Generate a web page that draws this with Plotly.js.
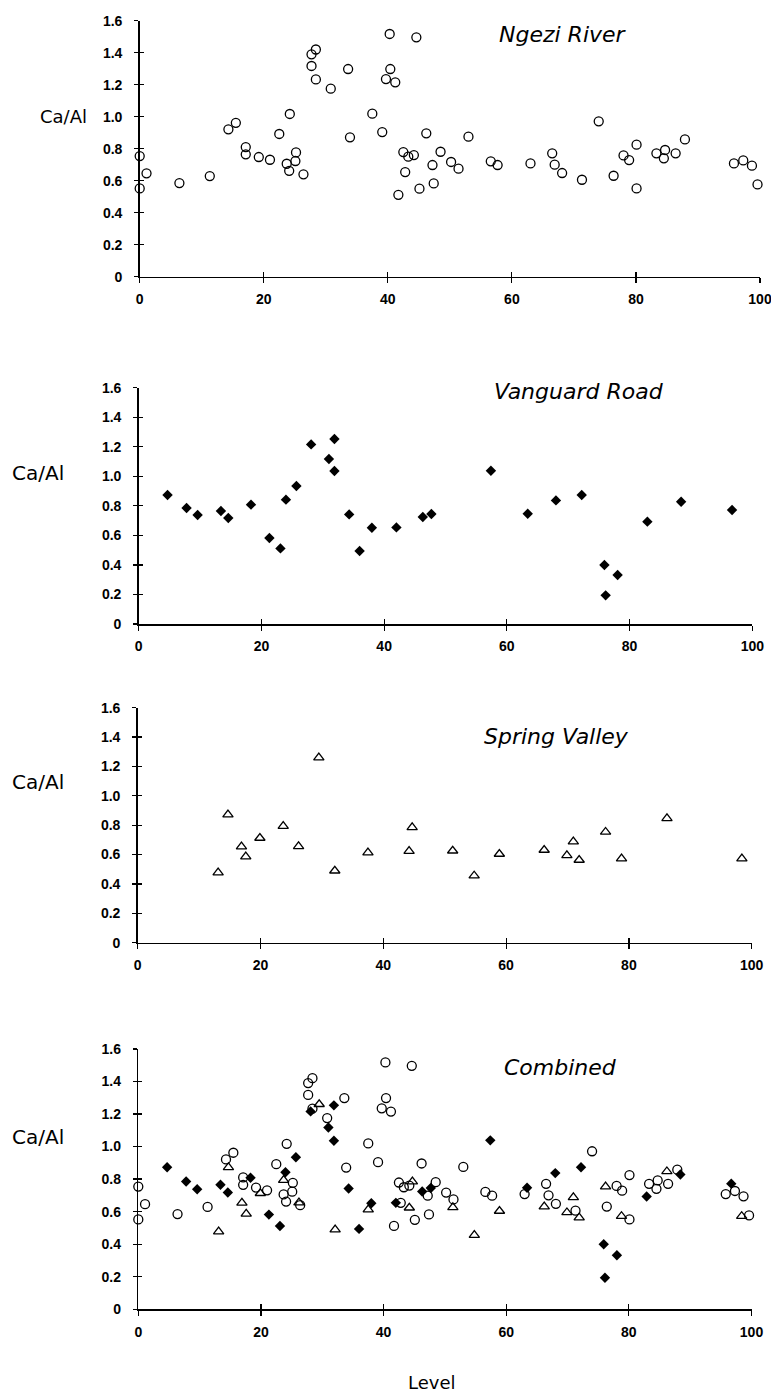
<!DOCTYPE html>
<html>
<head>
<meta charset="utf-8">
<script src="https://cdn.plot.ly/plotly-3.0.1.min.js"></script>
<style>html,body{margin:0;padding:0;background:#fff;}#chart{width:771px;height:1397px;}</style>
</head>
<body>
<div id="chart"></div>
<script>
// ---- data (Level vs Ca/Al) ----
const ngeziLevel = [0,0,1.1,6.4,11.3,14.3,15.5,17.1,17.1,19.2,21.0,22.5,24.2,23.7,24.1,25.2,25.1,26.4,27.7,28.4,27.7,28.4,30.8,33.6,33.9,37.5,39.1,40.3,39.7,40.4,41.2,41.7,44.6,42.5,42.8,43.3,44.2,45.1,46.2,47.2,47.4,48.5,50.2,51.4,53.0,56.6,57.7,63.0,66.5,66.9,68.1,71.3,74.0,76.4,78.0,78.9,80.1,80.1,83.3,84.5,84.7,86.4,87.9,95.8,97.3,98.7,99.6];
const ngeziCaAl  = [0.754,0.552,0.646,0.585,0.629,0.921,0.962,0.81,0.765,0.748,0.731,0.892,1.017,0.706,0.662,0.777,0.723,0.640,1.39,1.42,1.317,1.233,1.175,1.298,0.871,1.019,0.904,1.517,1.235,1.298,1.215,0.512,1.496,0.779,0.654,0.75,0.760,0.55,0.896,0.698,0.583,0.781,0.717,0.675,0.875,0.721,0.698,0.708,0.771,0.70,0.648,0.606,0.971,0.631,0.758,0.729,0.825,0.552,0.771,0.740,0.792,0.771,0.858,0.708,0.727,0.694,0.577];

const vanguardLevel = [4.7,7.8,9.6,13.4,14.6,18.3,21.3,23.1,24.0,25.7,28.1,31.0,31.9,31.9,34.3,36.0,38.0,42.0,46.3,47.7,57.4,63.4,68.0,72.2,75.9,78.05,76.1,82.9,88.4,96.7];
const vanguardCaAl  = [0.873,0.785,0.738,0.765,0.718,0.808,0.582,0.512,0.842,0.934,1.216,1.117,1.253,1.036,0.742,0.494,0.652,0.654,0.724,0.745,1.038,0.747,0.837,0.873,0.40,0.332,0.194,0.693,0.828,0.772];

const springLevel = [13.1,14.7,16.9,17.6,19.9,23.7,26.2,29.5,32.1,37.5,44.2,44.7,51.3,54.8,58.9,66.2,69.9,70.95,71.9,76.2,78.8,86.2,98.4];
const springCaAl  = [0.477,0.872,0.654,0.586,0.713,0.794,0.656,1.26,0.490,0.613,0.624,0.785,0.626,0.456,0.604,0.631,0.595,0.688,0.563,0.754,0.572,0.847,0.572];

const panelTitles = ["Ngezi River","Vanguard Road","Spring Valley","Combined"];
const xTickVals = [0,20,40,60,80,100];
const xTickText = ["0","20","40","60","80","100"];
const yTickVals = [0,0.2,0.4,0.6,0.8,1.0,1.2,1.4,1.6];
const yTickText = ["0","0.2","0.4","0.6","0.8","1.0","1.2","1.4","1.6"];
const yLabel = "Ca/Al";
const xLabel = "Level";

// ---- styling ----
const W = 771, H = 1397;
const panels = [
  {xl:139.7, xr:760.0, yt:20.7,   yb:276.7,  tx:563, ty:34,    lx:63.5, ly:117,   lsize:18},
  {xl:138.7, xr:752.3, yt:387.7,  yb:624.0,  tx:579, ty:391.7, lx:37.5, ly:473,   lsize:20},
  {xl:137.7, xr:751.7, yt:707.7,  yb:942.7,  tx:556, ty:737,   lx:37.5, ly:781.7, lsize:20},
  {xl:138.3, xr:751.5, yt:1048.9, yb:1309.3, tx:560, ty:1067,  lx:37.5, ly:1136.7,lsize:20}
];
const circleStyle = {symbol:'circle-open', size:9, color:'#000', line:{width:1.3,color:'#000'}};
const diamondStyle = {symbol:'diamond', size:8, color:'#000', line:{width:0}};
const triStyle = {symbol:'triangle-up-open', size:9, color:'#000', line:{width:1.3,color:'#000'}};

const series = [
  {x:ngeziLevel, y:ngeziCaAl, m:circleStyle},
  {x:vanguardLevel, y:vanguardCaAl, m:diamondStyle},
  {x:springLevel, y:springCaAl, m:triStyle}
];
const panelSeries = [[0],[1],[2],[0,1,2]];

const data = [];
const layout = {
  width: W, height: H,
  margin: {l:0, r:0, t:0, b:0},
  paper_bgcolor: '#fff', plot_bgcolor: 'rgba(0,0,0,0)',
  showlegend: false,
  annotations: []
};
const tickFont = {family:'Liberation Sans, Arial, sans-serif', size:14, color:'#000', weight:'bold'};
const labelFamily = 'DejaVu Sans, Verdana, sans-serif';

panels.forEach((p, i) => {
  const n = i + 1, m = i + 5;
  const xs = n === 1 ? '' : String(n), ys = xs;
  const xd = [p.xl / W, p.xr / W];
  const yd = [1 - p.yb / H, 1 - p.yt / H];
  layout['xaxis' + xs] = {
    domain: xd, range: [0, 100], anchor: 'y' + xs, fixedrange: true,
    showline: true, linecolor: '#000', linewidth: 1.5, showgrid: false, zeroline: false,
    tickmode: 'array', tickvals: xTickVals, ticktext: xTickText,
    ticks: 'outside', ticklen: 5, tickwidth: 1.2, tickcolor: '#000',
    tickfont: tickFont, ticklabelstandoff: 4, ticklabeloverflow: 'allow'
  };
  layout['yaxis' + ys] = {
    domain: yd, range: [0, 1.6], anchor: 'x' + xs, fixedrange: true,
    showline: true, linecolor: '#000', linewidth: 1.5, showgrid: false, zeroline: false,
    tickmode: 'array', tickvals: yTickVals, ticktext: yTickText,
    ticks: 'outside', ticklen: 4, tickwidth: 1.2, tickcolor: '#000',
    tickfont: tickFont, ticklabelstandoff: 9, ticklabeloverflow: 'allow'
  };
  // overlay axes for the inner half of the crossing tick marks
  layout['xaxis' + m] = {
    overlaying: 'x' + xs, anchor: 'y' + xs, domain: xd, range: [0, 100], fixedrange: true,
    showline: false, showgrid: false, zeroline: false, showticklabels: false,
    tickmode: 'array', tickvals: xTickVals, ticks: 'inside', ticklen: 5, tickwidth: 1.2, tickcolor: '#000'
  };
  layout['yaxis' + m] = {
    overlaying: 'y' + ys, anchor: 'x' + xs, domain: yd, range: [0, 1.6], fixedrange: true,
    showline: false, showgrid: false, zeroline: false, showticklabels: false,
    tickmode: 'array', tickvals: yTickVals, ticks: 'inside', ticklen: 4, tickwidth: 1.2, tickcolor: '#000'
  };
  data.push({type:'scatter', mode:'markers', x:[], y:[], xaxis:'x'+m, yaxis:'y'+m, hoverinfo:'skip', showlegend:false});

  panelSeries[i].forEach(si => {
    const s = series[si];
    data.push({
      type: 'scatter', mode: 'markers', x: s.x, y: s.y,
      xaxis: 'x' + xs, yaxis: 'y' + ys, marker: s.m, cliponaxis: false,
      hoverinfo: 'x+y'
    });
  });

  layout.annotations.push({
    text: '<i>' + panelTitles[i] + '</i>', xref: 'paper', yref: 'paper',
    x: p.tx / W, y: 1 - p.ty / H, xanchor: 'center', yanchor: 'middle', showarrow: false,
    font: {family: labelFamily, size: 22, color: '#000'}
  });
  layout.annotations.push({
    text: yLabel, xref: 'paper', yref: 'paper',
    x: p.lx / W, y: 1 - p.ly / H, xanchor: 'center', yanchor: 'middle', showarrow: false,
    font: {family: labelFamily, size: p.lsize, color: '#000'}
  });
});
layout.annotations.push({
  text: xLabel, xref: 'paper', yref: 'paper',
  x: 432 / W, y: 1 - 1382 / H, xanchor: 'center', yanchor: 'middle', showarrow: false,
  font: {family: labelFamily, size: 18, color: '#000'}
});

Plotly.newPlot('chart', data, layout, {displayModeBar: false, staticPlot: true});
</script>
</body>
</html>
